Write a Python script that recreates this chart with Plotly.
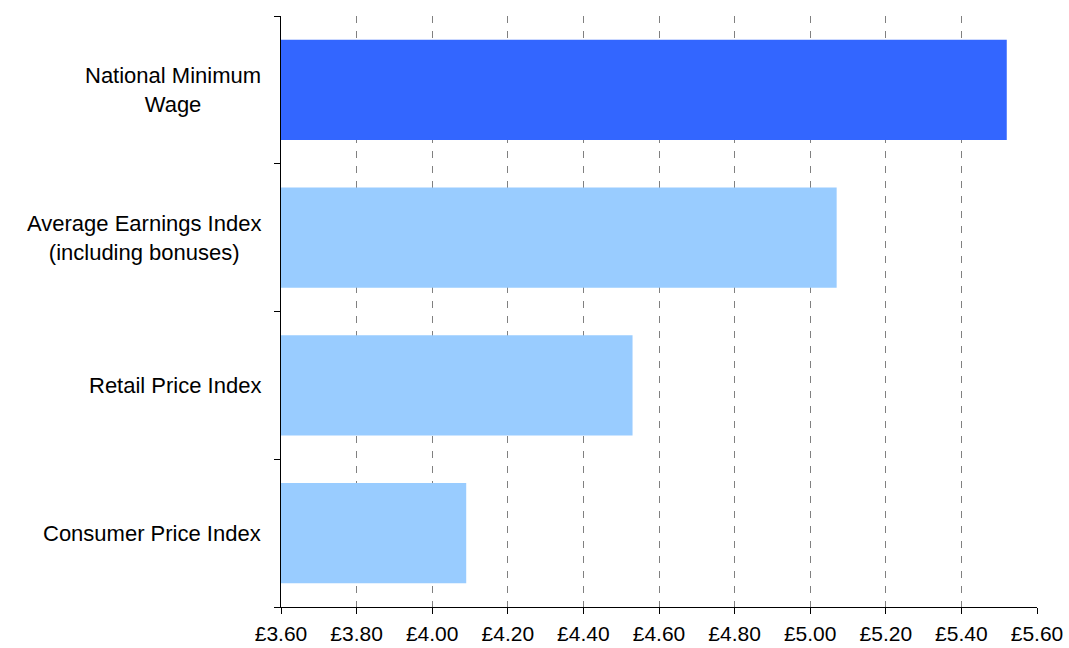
import plotly.graph_objects as go

categories = ["National Minimum<br>Wage", "Average Earnings Index<br>(including bonuses)",
              "Retail Price Index", "Consumer Price Index"]
values = [5.52, 5.07, 4.53, 4.09]
colors = ["#3366FF", "#99CCFF", "#99CCFF", "#99CCFF"]
x_ticks = [3.6, 3.8, 4.0, 4.2, 4.4, 4.6, 4.8, 5.0, 5.2, 5.4, 5.6]
x_tick_labels = ["£%.2f" % v for v in x_ticks]

FONT = "Liberation Sans, Arial, sans-serif"

fig = go.Figure()
fig.add_trace(go.Bar(
    y=categories, x=values, orientation="h",
    marker=dict(color=colors, line=dict(width=0)),
    hoverinfo="x+y",
))

for c in categories:
    fig.add_annotation(
        x=0, xref="paper", y=c, yref="y", text=c, showarrow=False,
        xanchor="right", yanchor="middle", align="center", xshift=-18,
        font=dict(family=FONT, size=22, color="#000000"),
    )

fig.update_layout(
    width=1069, height=648,
    margin=dict(l=281, r=32, t=16, b=41, autoexpand=False),
    plot_bgcolor="white", paper_bgcolor="white",
    bargap=0.32, showlegend=False,
    font=dict(family=FONT, size=22, color="#000000"),
)
fig.update_xaxes(
    range=[3.6, 5.6], tickvals=x_ticks, ticktext=x_tick_labels,
    showgrid=True, gridcolor="#808080", griddash="7px,8px", gridwidth=1,
    showline=True, linecolor="#000000", linewidth=1,
    ticks="outside", ticklen=6, tickcolor="#000000",
    zeroline=False, tickfont=dict(size=21), ticklabelstandoff=2,
    automargin=False,
)
fig.update_yaxes(
    categoryorder="array", categoryarray=categories[::-1],
    showticklabels=False, showgrid=False,
    showline=True, linecolor="#000000", linewidth=1,
    ticks="outside", ticklen=6, tickcolor="#000000", tickson="boundaries",
    zeroline=False, automargin=False,
)

fig.write_html("out.html")
